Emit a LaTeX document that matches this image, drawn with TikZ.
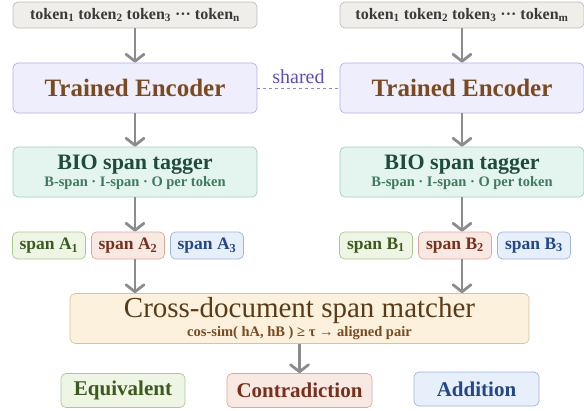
\documentclass[tikz,border=0pt]{standalone}
\usepackage{fontspec}
\setmainfont{Liberation Serif}
\usetikzlibrary{arrows.meta}

\definecolor{tokfill}{HTML}{EFEEEA}
\definecolor{tokdraw}{HTML}{BDBDB5}
\definecolor{toktext}{HTML}{3A3A3A}
\definecolor{encfill}{HTML}{EEEEFD}
\definecolor{encdraw}{HTML}{B4AEF0}
\definecolor{enctext}{HTML}{7B4A1E}
\definecolor{sharedtext}{HTML}{5B4FC0}
\definecolor{sharedline}{HTML}{8F86D8}
\definecolor{biofill}{HTML}{E4F5EF}
\definecolor{biodraw}{HTML}{9FCFBD}
\definecolor{biotext}{HTML}{1F4B3C}
\definecolor{biosub}{HTML}{3D7A5E}
\definecolor{eqvfill}{HTML}{EEF5E4}
\definecolor{eqvdraw}{HTML}{A9C98F}
\definecolor{eqvtext}{HTML}{3B5A1E}
\definecolor{confill}{HTML}{F9E9E3}
\definecolor{condraw}{HTML}{DBA99A}
\definecolor{context}{HTML}{7A2F1C}
\definecolor{addfill}{HTML}{E7EFFA}
\definecolor{adddraw}{HTML}{9BB5DD}
\definecolor{addtext}{HTML}{22478A}
\definecolor{matfill}{HTML}{FBF1DD}
\definecolor{matdraw}{HTML}{D9C39B}
\definecolor{mattext}{HTML}{5B3A18}
\definecolor{flowgray}{HTML}{8C8C8C}

\begin{document}
\begin{tikzpicture}[
  x=1pt, y=-1pt,
  box/.style={draw, rounded corners=5pt, line width=0.7pt, align=center, inner sep=0pt},
  tokbox/.style={box, fill=tokfill, draw=tokdraw, text=toktext, minimum width=244pt, minimum height=26pt,
    font=\bfseries\fontsize{16}{17}\selectfont},
  encbox/.style={box, fill=encfill, draw=encdraw, text=enctext, minimum width=244pt, minimum height=50pt,
    font=\bfseries\fontsize{25}{28}\selectfont},
  biobox/.style={box, fill=biofill, draw=biodraw, text=biotext, minimum width=244pt, minimum height=50pt},
  spanbox/.style={box, minimum width=73pt, minimum height=27pt, font=\bfseries\fontsize{17.5}{19}\selectfont},
  outbox/.style={box, minimum height=34pt, font=\bfseries\fontsize{21}{24}\selectfont},
  eqv/.style={fill=eqvfill, draw=eqvdraw, text=eqvtext},
  contra/.style={fill=confill, draw=condraw, text=context},
  addn/.style={fill=addfill, draw=adddraw, text=addtext},
  flow/.style={draw=flowgray, line width=2.8pt,
    -{Straight Barb[round, length=7pt, width=18pt, line width=2.8pt]}}
]
  \useasboundingbox (0,0) rectangle (584,410);

  % the two document columns
  \foreach \s/\cx/\n/\L in {L/135/n/A, R/462/m/B} {
    \node[tokbox] (tok\s) at (\cx,15)
      {token\textsubscript{1} token\textsubscript{2} token\textsubscript{3} ··· token\textsubscript{\n}};
    \node[encbox] (enc\s) at (\cx,88) {Trained Encoder};
    \node[biobox] (bio\s) at (\cx,172)
      {{\bfseries\fontsize{22}{22}\selectfont BIO span tagger}\\[1pt]
       {\color{biosub}\bfseries\fontsize{14.5}{15}\selectfont B-span · I-span · O per token}};
    \foreach \i/\dx/\st in {1/-86/eqv, 2/-7/contra, 3/72/addn} {
      \node[spanbox, \st] (span\s\i) at ({\cx+\dx},245.5) {span \L\textsubscript{\i}};
    }
    \draw[flow] (tok\s) -- (enc\s);
    \draw[flow] (enc\s) -- (bio\s);
    \draw[flow] (bio\s.south) -- (bio\s.south |- span\s2.north);
  }

  % shared weights
  \draw[sharedline, dashed, line width=0.7pt] (encL.east) -- (encR.west)
    node[midway, above=1pt, text=sharedtext, font=\fontsize{20}{20}\selectfont] {shared};

  % matcher
  \node[box, fill=matfill, draw=matdraw, text=mattext, minimum width=459pt, minimum height=50pt] (match) at (299.5,318.5)
    {{\fontsize{29}{26}\selectfont Cross-document span matcher}\\[1pt]
     {\color{enctext}\bfseries\fontsize{14.5}{15}\selectfont cos-sim( hA, hB ) ≥ τ → aligned pair}};
  \draw[flow] (spanL2.south -| bioL.south) -- (match.north -| bioL.south);
  \draw[flow] (spanR2.south -| bioR.south) -- (match.north -| bioR.south);

  % outcomes
  \node[outbox, eqv, minimum width=124pt] (equiv) at (123,390.5) {Equivalent};
  \node[outbox, contra, minimum width=145pt] (contr) at (299.5,390.5) {Contradiction};
  \node[outbox, addn, minimum width=125pt] (addit) at (476.5,389) {Addition};
  \draw[flow] (match) -- (contr);
\end{tikzpicture}
\end{document}
